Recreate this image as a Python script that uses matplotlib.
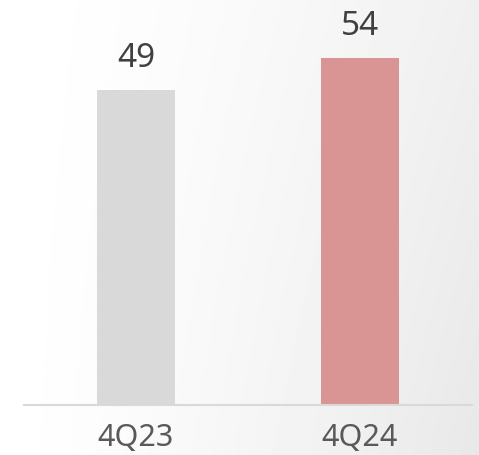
import matplotlib.pyplot as plt
import numpy as np

quarters = ['4Q23', '4Q24']
values = [49, 54]
bar_colors = ['#d9d9d9', '#d99594']

plt.rcParams['font.family'] = ['Noto Sans', 'DejaVu Sans']

fig = plt.figure(figsize=(4.79, 4.55), dpi=100)

# soft light-gray background, lighter on the left
bg = fig.add_axes([0, 0, 1, 1], zorder=0)
gx = np.linspace(0, 1, 200)
gy = np.linspace(0, 1, 200)
X, Y = np.meshgrid(gx, gy)
shade = 1.0 - 0.06 * X ** 1.5 - 0.03 * X * Y
bg.imshow(shade, cmap='gray', vmin=0, vmax=1, aspect='auto', extent=[0, 1, 0, 1], origin='upper')
bg.axis('off')

ax = fig.add_axes([24 / 479, 1 - 405 / 455, 448 / 479, 405 / 455], zorder=1)
ax.patch.set_alpha(0)

x = np.arange(len(quarters))
bars = ax.bar(x, values, width=0.35, color=bar_colors)

for xi, v in zip(x, values):
    ax.text(xi, v + 2.3, str(v), ha='center', va='bottom', fontsize=24, color='#404040')

ax.set_xlim(-0.5, 1.5)
ax.set_ylim(0, 63)
ax.set_xticks(x)
ax.set_xticklabels(quarters, fontsize=22, color='#595959')
ax.tick_params(axis='x', length=0, pad=13)
ax.set_yticks([])
for side in ['top', 'right', 'left']:
    ax.spines[side].set_visible(False)
ax.spines['bottom'].set_color('#d9d9d9')
ax.spines['bottom'].set_linewidth(1.5)

fig.savefig('out.png', dpi=100)
